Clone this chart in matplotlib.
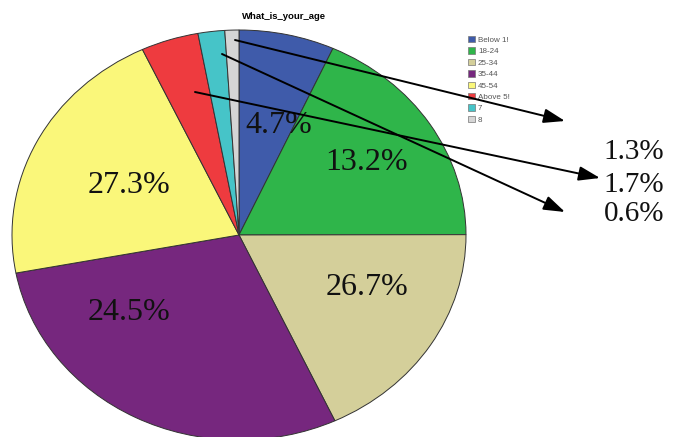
import matplotlib.pyplot as plt
from matplotlib.patches import Patch

# age groups (legend text as shown) and slice shares
categories = ['Below 1!', '18-24', '25-34', '35-44', '45-54', 'Above 5!', '7', '8']
slice_share = [6.8, 18.2, 18.1, 29.0, 21.0, 4.1, 1.9, 1.0]
colors = ['#3F5BAA', '#2FB54A', '#D4CF9A', '#76277E', '#FAF77A', '#EE3B3F', '#46C4C8', '#D5D5D5']

# percentage texts written on the chart
inner_labels = ['4.7%', '13.2%', '26.7%', '24.5%', '27.3%']
outer_labels = ['1.3%', '1.7%', '0.6%']

W, H = 673, 437
CX, CY, RX, RY = 239, 235, 227, 205


def px(x, y):
    # image pixel -> data coordinates of the pie axes
    return (x - CX) / RX, (CY - y) / RY


fig = plt.figure(figsize=(W / 100, H / 100), dpi=100)
ax = fig.add_axes([0, 0, 1, 1])
ax.pie(slice_share, colors=colors, startangle=90, counterclock=False, radius=1,
       wedgeprops=dict(edgecolor='#333333', linewidth=0.7))
ax.set_aspect('auto')
ax.set_xlim(px(0, 0)[0], px(W, 0)[0])
ax.set_ylim(px(0, H)[1], px(0, 0)[1])
ax.axis('off')

# legend (inside the axes so the arrows can cross over it)
handles = [Patch(facecolor=c, edgecolor='#777777', linewidth=0.5) for c in colors]
leg = ax.legend(handles, categories, loc='upper left',
                bbox_to_anchor=(468 / W, 1 - 36 / H), bbox_transform=fig.transFigure,
                frameon=False, handlelength=0.85, handleheight=0.85,
                handletextpad=0.4, labelspacing=0.42, borderpad=0, borderaxespad=0,
                prop={'family': 'Liberation Sans', 'size': 5.8})
leg.set_zorder(2)
for t in leg.get_texts():
    t.set_color('#555555')

# title
ax.text(*px(284, 19), 'What_is_your_age', ha='center', va='baseline',
        fontsize=6.8, fontweight='bold', family='Liberation Sans')

# percentages inside the pie
inner_pos = [(279, 133), (367, 170), (367, 295), (129, 320), (129, 193)]
for lab, (x, y) in zip(inner_labels, inner_pos):
    ax.text(*px(x, y), lab, ha='center', va='baseline', fontsize=23,
            family='Liberation Serif', color='#111111')

# percentages on the right
outer_pos = [(634, 159), (634, 192), (634, 221)]
for lab, (x, y) in zip(outer_labels, outer_pos):
    ax.text(*px(x, y), lab, ha='center', va='baseline', fontsize=21,
            family='Liberation Serif', color='#111111')

# arrows from the small slices
arrows = [((235, 40), (565, 121)), ((222, 54), (565, 212)), ((195, 92), (600, 178))]
for start, end in arrows:
    ax.annotate('', xy=px(*end), xytext=px(*start), zorder=5,
                arrowprops=dict(arrowstyle='-|>,head_length=0.65,head_width=0.22',
                                color='black', lw=1.4, mutation_scale=20,
                                shrinkA=0, shrinkB=0))

fig.savefig('out.png', dpi=100)
